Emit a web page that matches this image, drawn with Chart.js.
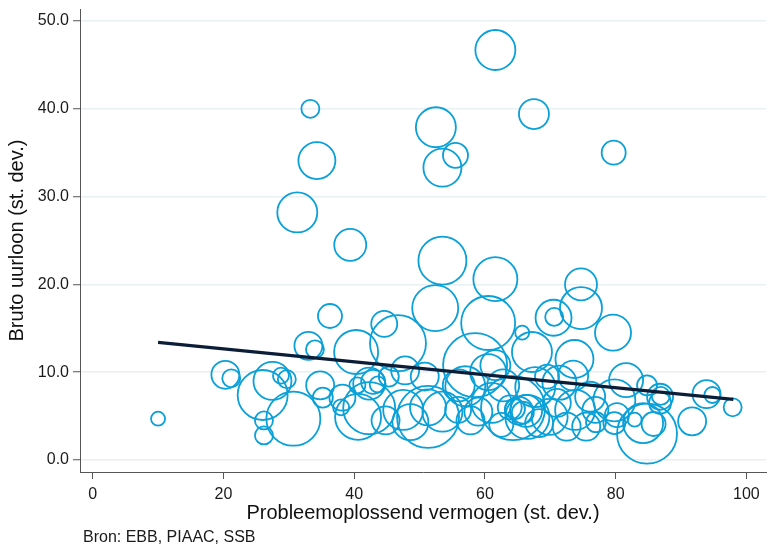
<!DOCTYPE html>
<html>
<head>
<meta charset="utf-8">
<script src="https://cdn.jsdelivr.net/npm/chart.js@4.4.1/dist/chart.umd.min.js"></script>
<style>
  html, body { margin: 0; padding: 0; background: #fff; }
  #wrap { width: 769px; height: 547px; }
</style>
</head>
<body>
<div id="wrap"><canvas id="chart"></canvas></div>
<script>
/* Bubble chart: problem solving vs. hourly wage */

const X_TICKS = [0, 20, 40, 60, 80, 100];
const Y_TICKS = [0, 10, 20, 30, 40, 50];

// bubbles: x = problem solving, y = hourly wage, size = bubble radius
const bubbleX = [
    10.0, 33.3, 61.6, 67.5, 52.5, 55.5, 53.5, 34.3, 79.7, 31.3,
    39.4, 53.5, 61.6, 74.7, 74.7, 70.5, 70.6, 79.6, 65.7, 36.3,
    44.6, 52.4, 60.5, 67.2, 73.7, 81.6, 73.5, 84.8, 86.8, 86.9,
    86.8, 93.9, 94.8, 97.9, 91.7, 84.8, 85.8, 84.2, 82.9, 80.2,
    79.8, 79.8, 76.9, 76.1, 77.0, 73.8, 71.4, 69.9, 66.5, 67.7,
    58.5, 60.5, 61.6, 64.3, 63.8, 64.6, 65.2, 65.8, 66.3, 47.5,
    51.3, 51.3, 53.5, 55.9, 46.7, 40.3, 33.0, 34.0, 34.8, 35.2,
    38.2, 40.6, 42.3, 40.5, 42.3, 42.9, 43.6, 38.0, 20.3, 21.2,
    26.0, 27.5, 29.7, 26.2, 26.2, 30.7, 28.8, 47.8, 48.6, 57.0,
    57.8, 61.0, 62.5, 62.8, 69.5, 71.0, 72.5, 75.5, 68.3, 45.3,
    44.8, 50.8, 56.0, 59.0
];
const bubbleY = [
    4.7, 40.0, 46.7, 39.4, 37.9, 34.7, 33.3, 34.1, 35.0, 28.2,
    24.5, 22.7, 20.6, 20.0, 17.3, 16.2, 16.3, 14.5, 14.5, 16.4,
    15.5, 17.3, 15.6, 12.3, 11.5, 9.1, 9.6, 8.5, 7.2, 7.3,
    6.5, 7.5, 7.4, 6.0, 4.4, 3.0, 4.1, 4.2, 4.6, 5.1,
    4.2, 6.8, 5.7, 7.2, 4.3, 5.7, 8.8, 4.9, 4.9, 8.3,
    10.8, 10.0, 10.8, 5.9, 6.0, 5.8, 5.6, 5.4, 5.6, 5.7,
    4.9, 6.0, 5.5, 5.7, 13.3, 12.3, 13.0, 12.6, 8.5, 7.1,
    7.1, 4.9, 5.9, 8.5, 8.7, 8.9, 8.6, 6.0, 9.7, 9.3,
    7.4, 9.0, 9.2, 4.5, 2.8, 4.7, 9.6, 10.2, 4.3, 8.4,
    4.5, 6.5, 4.0, 8.5, 9.5, 6.5, 3.8, 3.8, 4.2, 9.5,
    4.5, 9.5, 8.5, 5.5
];
const bubbleSize = [
    7, 9, 20, 15, 20, 12.5, 19, 18.5, 12, 20,
    16, 24, 22, 16, 21, 18, 9, 18, 7, 12,
    13, 23, 27, 20, 19, 17, 15, 10, 13, 9,
    11, 14, 8, 9, 14, 30, 12, 20, 7, 12,
    11, 21, 13, 15, 10, 20, 17, 18, 22, 20,
    32, 18, 15, 32, 12, 10, 14, 11, 16, 20,
    31, 18, 20, 13, 28, 22, 14, 9, 14, 10,
    13, 23, 26, 8, 16, 12, 8, 8, 14, 9,
    25, 19, 9, 9, 9, 27, 8, 14, 18, 20,
    14, 20, 12, 16, 12, 14, 14, 14, 14, 10,
    14, 14, 16, 14
];

// fitted line
const trendX = [10, 98];
const trendY = [13.4, 6.9];

const FONT = "'Liberation Sans', Arial, sans-serif";
Chart.defaults.font.family = FONT;
Chart.defaults.color = '#1a1a1a';

const sourceNote = {
    id: 'sourceNote',
    afterDraw(chart) {
        const ctx = chart.ctx;
        ctx.save();
        ctx.font = '16px ' + FONT;
        ctx.fillStyle = '#1a1a1a';
        ctx.textBaseline = 'middle';
        ctx.fillText('Bron: EBB, PIAAC, SSB', 83, 538);
        ctx.restore();
    }
};

new Chart(document.getElementById('chart').getContext('2d'), {
    type: 'bubble',
    data: {
        datasets: [
            {
                type: 'line',
                order: 0,
                data: trendX.map((x, i) => ({ x, y: trendY[i] })),
                borderColor: '#0c1d38',
                borderWidth: 3.2,
                pointRadius: 0,
                fill: false,
            },
            {
                order: 1,
                data: bubbleX.map((x, i) => ({ x, y: bubbleY[i], r: bubbleSize[i] })),
                backgroundColor: 'rgba(0,0,0,0)',
                borderColor: '#0aa0d8',
                borderWidth: 1.8,
                hoverRadius: 0,
            },
        ],
    },
    options: {
        responsive: true,
        maintainAspectRatio: false,
        animation: false,
        events: [],
        layout: { autoPadding: false, padding: { top: 9, right: 3, left: 0, bottom: 0 } },
        plugins: { legend: { display: false }, tooltip: { enabled: false } },
        scales: {
            x: {
                type: 'linear',
                min: -1.94,
                max: 103,
                afterBuildTicks: s => { s.ticks = X_TICKS.map(v => ({ value: v })); },
                afterFit: s => { s.height = 75; },
                ticks: { font: { size: 16 }, color: '#1a1a1a', padding: 6, maxRotation: 0 },
                grid: { drawOnChartArea: false, drawTicks: true, tickLength: 7, tickColor: '#555', tickWidth: 1 },
                border: { display: true, color: '#555', width: 1 },
                title: { display: true, text: 'Probleemoplossend vermogen (st. dev.)', font: { size: 20 }, color: '#111', padding: { top: 0, bottom: 22 } },
            },
            y: {
                type: 'linear',
                min: -1.37,
                max: 51.37,
                afterBuildTicks: s => { s.ticks = Y_TICKS.map(v => ({ value: v })); },
                afterFit: s => { s.width = 80; s.paddingTop = 0; s.paddingBottom = 0; },
                ticks: { font: { size: 16 }, color: '#1a1a1a', padding: 4, callback: v => v.toFixed(1) },
                grid: { color: '#e9f0f4', lineWidth: 1.5, tickLength: 7, tickColor: '#555', tickWidth: 1 },
                border: { display: true, color: '#555', width: 1 },
                title: { display: true, text: 'Bruto uurloon (st. dev.)', font: { size: 20 }, color: '#111', padding: { top: 5, bottom: 0 } },
            },
        },
    },
    plugins: [sourceNote],
});
</script>
</body>
</html>
